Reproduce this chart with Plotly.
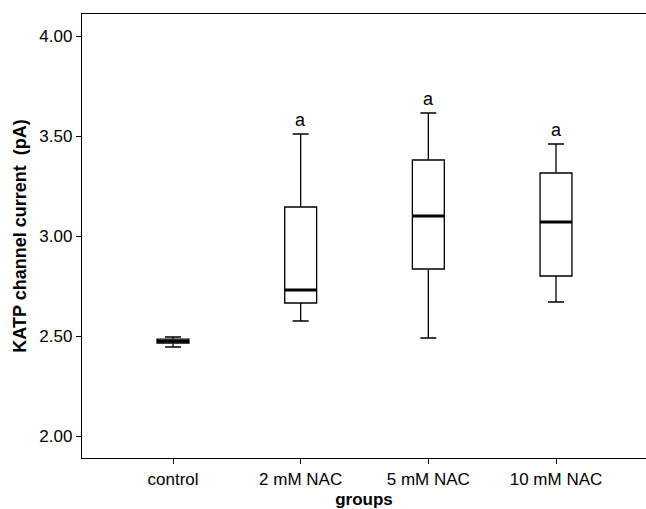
import plotly.graph_objects as go

groups = ["control", "2 mM NAC", "5 mM NAC", "10 mM NAC"]
lower = [2.445, 2.575, 2.49, 2.67]
q1 = [2.465, 2.665, 2.835, 2.80]
median = [2.474, 2.73, 3.10, 3.07]
q3 = [2.484, 3.145, 3.38, 3.315]
upper = [2.495, 3.51, 3.615, 3.46]
sig = ["", "a", "a", "a"]

y_ticks = [2.0, 2.5, 3.0, 3.5, 4.0]
y_tick_text = ["2.00", "2.50", "3.00", "3.50", "4.00"]

FONT = "Liberation Sans, Arial"

fig = go.Figure()
fig.add_trace(go.Box(
    x=groups, q1=q1, median=median, q3=q3,
    lowerfence=lower, upperfence=upper,
    width=0.25, whiskerwidth=0.5,
    fillcolor="white", line=dict(color="black", width=1.3),
    boxpoints=False, hoverinfo="skip", showlegend=False,
))
# thicker median lines
fig.add_trace(go.Box(
    x=groups, q1=median, median=median, q3=median,
    lowerfence=median, upperfence=median,
    width=0.25, whiskerwidth=0,
    fillcolor="rgba(0,0,0,0)", line=dict(color="black", width=3),
    boxpoints=False, hoverinfo="skip", showlegend=False,
))

for g, u, s in zip(groups, upper, sig):
    if s:
        fig.add_annotation(x=g, y=u, text=s, showarrow=False, yshift=14,
                           font=dict(family=FONT, size=18, color="black"))

fig.update_layout(
    width=646, height=509,
    margin=dict(l=82, r=0, t=14, b=51),
    paper_bgcolor="white", plot_bgcolor="white",
    font=dict(family=FONT, size=17, color="black"),
    showlegend=False,
)
fig.update_xaxes(
    range=[-0.713, 3.705], showline=True, linecolor="black", linewidth=1.3,
    mirror=True, ticks="outside", ticklen=5, tickcolor="black", tickwidth=1.3,
    showgrid=False, zeroline=False,
    title=dict(text="<b>groups</b>", standoff=6, font=dict(size=17)),
    tickfont=dict(size=17),
)
fig.update_yaxes(
    range=[1.89, 4.11], showline=True, linecolor="black", linewidth=1.3,
    ticks="outside", ticklen=5, tickcolor="black", tickwidth=1.3,
    tickvals=y_ticks, ticktext=y_tick_text,
    showgrid=False, zeroline=False,
    title=dict(text="<b>KATP channel current  (pA)</b>", standoff=8, font=dict(size=18)),
    tickfont=dict(size=17),
)

fig.write_html("out.html")
